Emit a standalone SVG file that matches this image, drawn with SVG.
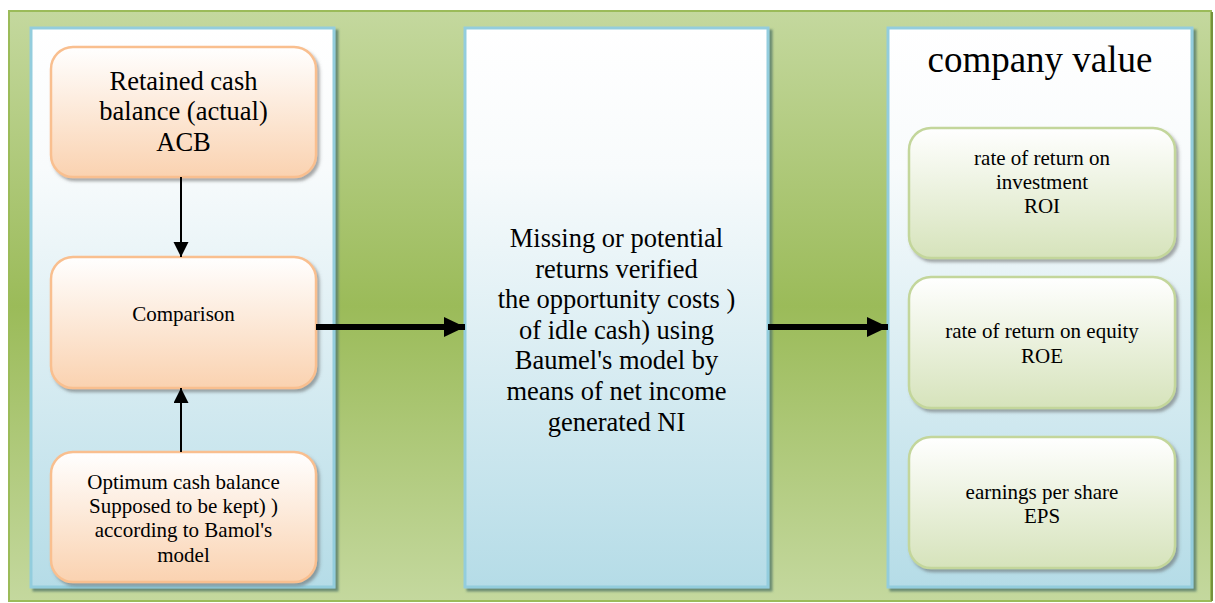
<svg xmlns="http://www.w3.org/2000/svg" width="1215" height="603" viewBox="0 0 1215 603">
<defs>
<linearGradient id="gOuter" x1="0" y1="0" x2="0" y2="1">
<stop offset="0" stop-color="#c4d89e"/>
<stop offset="0.5" stop-color="#9bbb59"/>
<stop offset="1" stop-color="#c4d89e"/>
</linearGradient>
<linearGradient id="gPanel" x1="0" y1="0" x2="0" y2="1">
<stop offset="0" stop-color="#ffffff"/>
<stop offset="0.25" stop-color="#f8fbfc"/>
<stop offset="1" stop-color="#b5dce7"/>
</linearGradient>
<linearGradient id="gOrange" x1="0" y1="0" x2="0" y2="1">
<stop offset="0" stop-color="#ffffff"/>
<stop offset="1" stop-color="#fad2b0"/>
</linearGradient>
<linearGradient id="gGreen" x1="0" y1="0" x2="0" y2="1">
<stop offset="0" stop-color="#ffffff"/>
<stop offset="1" stop-color="#d6e3bb"/>
</linearGradient>
<filter id="shPanel" x="-5%" y="-5%" width="115%" height="115%">
<feDropShadow dx="3" dy="3" stdDeviation="0.8" flood-color="#5b7f6c" flood-opacity="0.85"/>
</filter>
<filter id="shBox" x="-5%" y="-5%" width="115%" height="120%">
<feDropShadow dx="2.5" dy="3" stdDeviation="1.5" flood-color="#555555" flood-opacity="0.5"/>
</filter>
<marker id="ahSmall" markerWidth="15" markerHeight="16" refX="15" refY="7.5" orient="auto" markerUnits="userSpaceOnUse">
<path d="M0,0 L15,7.5 L0,15 Z" fill="#000"/>
</marker>
<marker id="ahBig" markerWidth="22" markerHeight="20" refX="21" refY="10" orient="auto" markerUnits="userSpaceOnUse">
<path d="M0,0 L21,10 L0,20 Z" fill="#000"/>
</marker>
</defs>
<style>
.panel{fill:url(#gPanel);stroke:#93cddd;stroke-width:3;filter:url(#shPanel)}
.obox{fill:url(#gOrange);stroke:#f9bf8f;stroke-width:2.5;filter:url(#shBox)}
.gbox{fill:url(#gGreen);stroke:#c3d69b;stroke-width:2.5;filter:url(#shBox)}
text{fill:#000;text-anchor:middle}
.t26{font-size:26.5px}
.t21{font-size:21px}
.t37{font-size:37px}
.thin{stroke:#000;stroke-width:2;fill:none}
.thick{stroke:#000;stroke-width:6;fill:none}
</style>
<g id="background">
<rect x="9" y="11" width="1202" height="590" fill="url(#gOuter)" stroke="#9bbb59" stroke-width="2"/>
<rect x="1211" y="12" width="2" height="589" fill="#76923c"/>
</g>
<g font-family="'Liberation Serif', 'DejaVu Serif', serif">
<g id="panel-left">
<rect class="panel" x="31" y="28" width="303" height="559"/>
</g>
<g id="panel-middle">
<rect class="panel" x="465" y="28" width="303" height="559"/>
<text class="t26" x="616.5" y="247">Missing or potential</text>
<text class="t26" x="616.5" y="277.5">returns verified</text>
<text class="t26" x="616.5" y="308">the opportunity costs )</text>
<text class="t26" x="616.5" y="338.5">of idle cash) using</text>
<text class="t26" x="616.5" y="369">Baumel's model by</text>
<text class="t26" x="616.5" y="400">means of net income</text>
<text class="t26" x="616.5" y="431">generated NI</text>
</g>
<g id="panel-right">
<rect class="panel" x="888" y="28" width="304" height="559"/>
<text class="t37" x="1040" y="72">company value</text>
</g>
<g id="node-acb">
<rect class="obox" x="51" y="47" width="265" height="130" rx="22" ry="22"/>
<text class="t26" x="183.5" y="90">Retained cash</text>
<text class="t26" x="183.5" y="120">balance (actual)</text>
<text class="t26" x="183.5" y="151">ACB</text>
</g>
<g id="node-comparison">
<rect class="obox" x="51" y="257" width="265" height="131" rx="22" ry="22"/>
<text class="t21" x="183.5" y="321">Comparison</text>
</g>
<g id="node-optimum">
<rect class="obox" x="51" y="452" width="265" height="130" rx="22" ry="22"/>
<text class="t21" x="183.5" y="489">Optimum cash balance</text>
<text class="t21" x="183.5" y="513">Supposed to be kept) )</text>
<text class="t21" x="183.5" y="537">according to Bamol's</text>
<text class="t21" x="183.5" y="562">model</text>
</g>
<g id="node-roi">
<rect class="gbox" x="909" y="128" width="266" height="130" rx="22" ry="22"/>
<text class="t21" x="1042" y="165">rate of return on</text>
<text class="t21" x="1042" y="189">investment</text>
<text class="t21" x="1042" y="213">ROI</text>
</g>
<g id="node-roe">
<rect class="gbox" x="909" y="277" width="266" height="131" rx="22" ry="22"/>
<text class="t21" x="1042" y="338">rate of return on equity</text>
<text class="t21" x="1042" y="363">ROE</text>
</g>
<g id="node-eps">
<rect class="gbox" x="909" y="437" width="266" height="131" rx="22" ry="22"/>
<text class="t21" x="1042" y="499">earnings per share</text>
<text class="t21" x="1042" y="523">EPS</text>
</g>
</g>
<g id="connectors">
<line class="thin" x1="181" y1="177" x2="181" y2="257" marker-end="url(#ahSmall)"/>
<line class="thin" x1="181" y1="452" x2="181" y2="388" marker-end="url(#ahSmall)"/>
<line class="thick" x1="316" y1="327" x2="465" y2="327" marker-end="url(#ahBig)"/>
<line class="thick" x1="768" y1="327" x2="888" y2="327" marker-end="url(#ahBig)"/>
</g>
</svg>
